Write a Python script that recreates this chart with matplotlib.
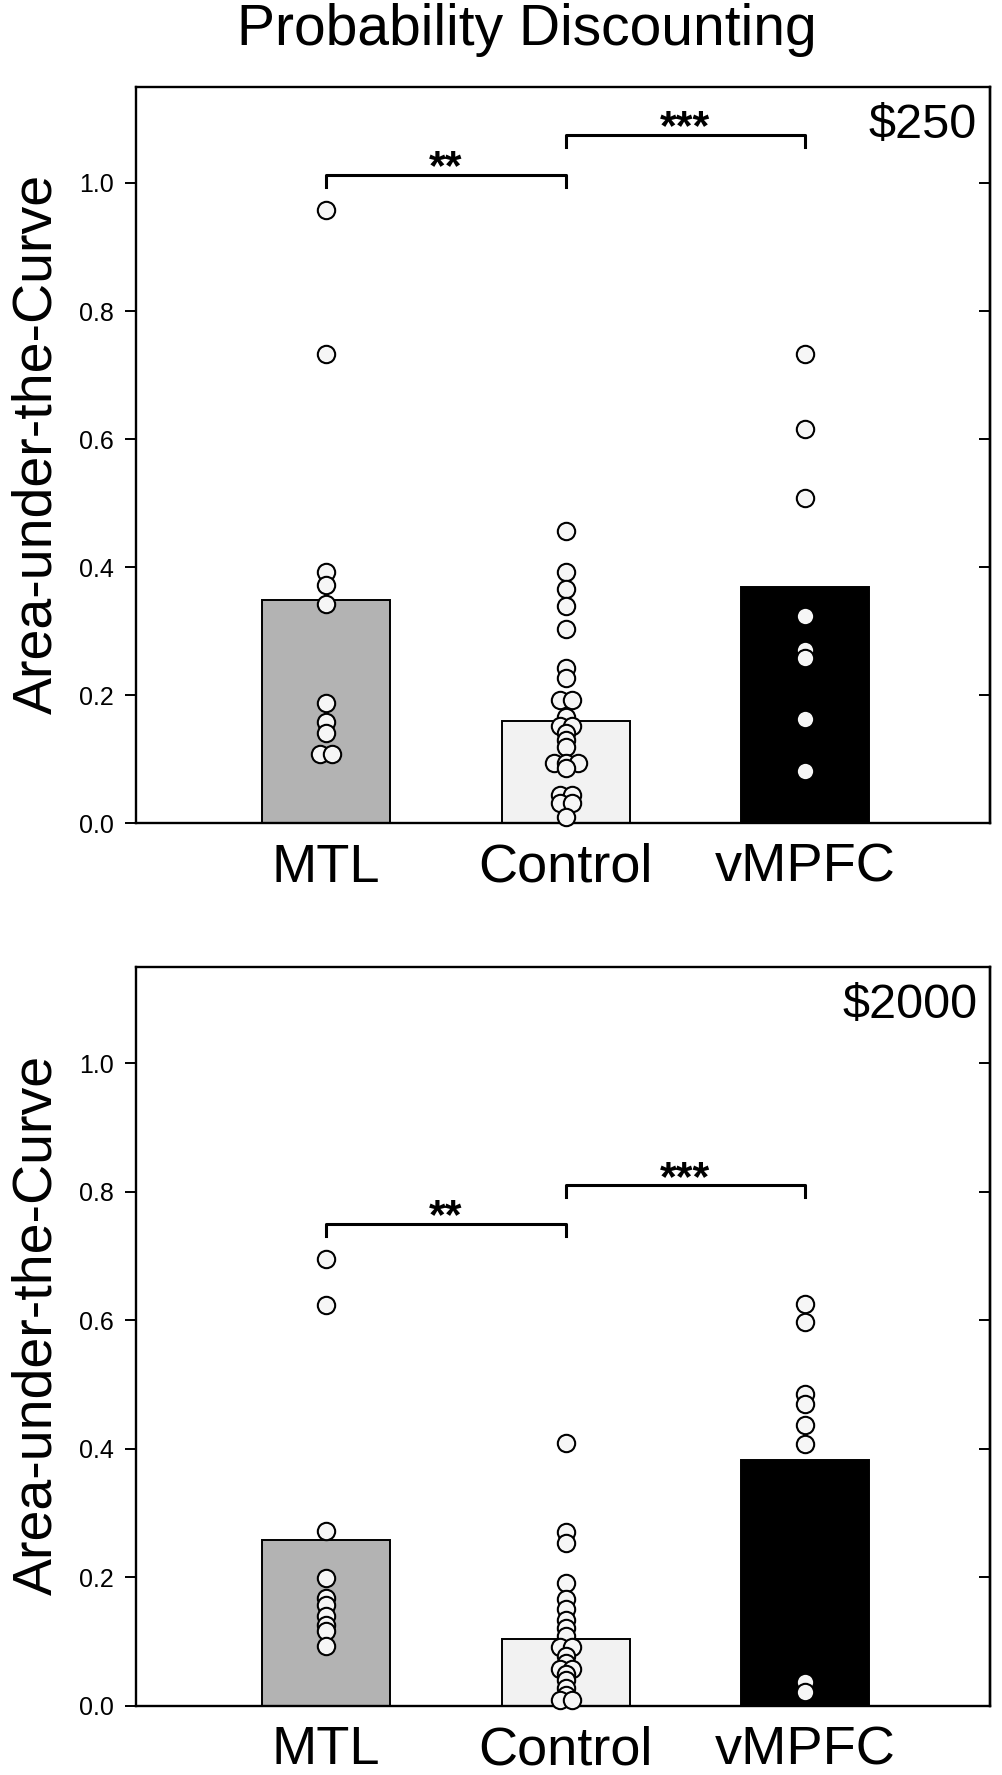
import numpy as np
import matplotlib
matplotlib.use('Agg')
import matplotlib.pyplot as plt

plt.rcParams['font.family'] = ['Liberation Sans', 'DejaVu Sans']

groups = ['MTL', 'Control', 'vMPFC']
bar_colors = ['#b3b3b3', '#f2f2f2', '#000000']

# $250 panel
bars_250 = [0.349, 0.159, 0.369]
mtl_250 = [0.958, 0.733, 0.392, 0.372, 0.343, 0.188, 0.158, 0.140, 0.108, 0.108]
control_250 = [0.456, 0.393, 0.365, 0.339, 0.303, 0.242, 0.226, 0.192, 0.192, 0.166,
               0.151, 0.151, 0.140, 0.130, 0.119, 0.094, 0.094, 0.094, 0.086,
               0.044, 0.044, 0.032, 0.032, 0.010]
vmpfc_250 = [0.733, 0.615, 0.508, 0.324, 0.270, 0.258, 0.162, 0.081]
sig_250 = [(0, 1, 1.012, '**'), (1, 2, 1.075, '***')]

# $2000 panel
bars_2000 = [0.258, 0.104, 0.383]
mtl_2000 = [0.695, 0.624, 0.273, 0.199, 0.168, 0.157, 0.140, 0.126, 0.117, 0.093]
control_2000 = [0.410, 0.270, 0.254, 0.191, 0.167, 0.151, 0.133, 0.122, 0.109,
                0.091, 0.091, 0.078, 0.067, 0.057, 0.057, 0.049, 0.041, 0.028,
                0.017, 0.009, 0.009]
vmpfc_2000 = [0.625, 0.598, 0.486, 0.470, 0.437, 0.408, 0.038, 0.022]
sig_2000 = [(0, 1, 0.750, '**'), (1, 2, 0.810, '***')]

yticks = [0.0, 0.2, 0.4, 0.6, 0.8, 1.0]


def spread(vals, step=0.05, tol=0.006):
    # put (nearly) equal values side by side
    offs = np.zeros(len(vals))
    used = [False] * len(vals)
    for i in range(len(vals)):
        if used[i]:
            continue
        grp = [j for j in range(len(vals)) if not used[j] and abs(vals[j] - vals[i]) < tol]
        n = len(grp)
        for k, j in enumerate(grp):
            offs[j] = (k - (n - 1) / 2) * step
            used[j] = True
    return offs


def draw_panel(ax, bars, points, sig, amount):
    x = np.arange(len(groups))
    ax.bar(x, bars, width=0.533, color=bar_colors, edgecolor='black', linewidth=1.4, zorder=2)
    for i, vals in enumerate(points):
        vals = np.array(vals)
        xs = i + spread(vals)
        ax.plot(xs, vals, 'o', ms=12.5, mfc='#f6f6f6', mec='black', mew=1.5,
                linestyle='none', zorder=3, clip_on=False)

    for a, b, y, stars in sig:
        d = 0.018
        ax.plot([a, a, b, b], [y - d, y, y, y - d], color='black', lw=2.2, zorder=4)
        ax.annotate(stars, xy=((a + b) / 2, y), xytext=(0, -3), textcoords='offset points',
                    ha='center', va='baseline', fontsize=31, fontweight='bold')

    ax.set_xlim(-0.792, 2.77)
    ax.set_ylim(0, 1.15)
    ax.set_yticks(yticks)
    ax.set_yticklabels(['%.1f' % t for t in yticks])
    ax.set_xticks(x)
    ax.set_xticklabels(groups, fontsize=39)
    ax.tick_params(axis='x', length=0, pad=14)
    ax.tick_params(axis='y', direction='out', length=8, width=1.4, labelsize=18, pad=8)
    for s in ax.spines.values():
        s.set_linewidth(1.7)

    # small inward ticks on the right side
    sec = ax.secondary_yaxis('right')
    sec.set_yticks(yticks)
    sec.set_yticklabels([])
    sec.tick_params(direction='in', length=8, width=1.4)
    sec.spines['right'].set_linewidth(1.7)

    ax.set_ylabel('Area-under-the-Curve', fontsize=40)
    ax.yaxis.set_label_coords(-0.085, 0.515)
    ax.text(0.985, 0.948, amount, transform=ax.transAxes, ha='right', va='center', fontsize=35)


fig = plt.figure(figsize=(10.02, 17.75), dpi=100)
ax1 = fig.add_axes([0.1357, 0.5363, 0.8523, 0.4147])
ax2 = fig.add_axes([0.1357, 0.0389, 0.8523, 0.4163])

draw_panel(ax1, bars_250, [mtl_250, control_250, vmpfc_250], sig_250, '$250')
draw_panel(ax2, bars_2000, [mtl_2000, control_2000, vmpfc_2000], sig_2000, '$2000')

fig.text(0.526, 0.983, 'Probability Discounting', ha='center', va='center', fontsize=41)

fig.savefig('out.png', dpi=100)
